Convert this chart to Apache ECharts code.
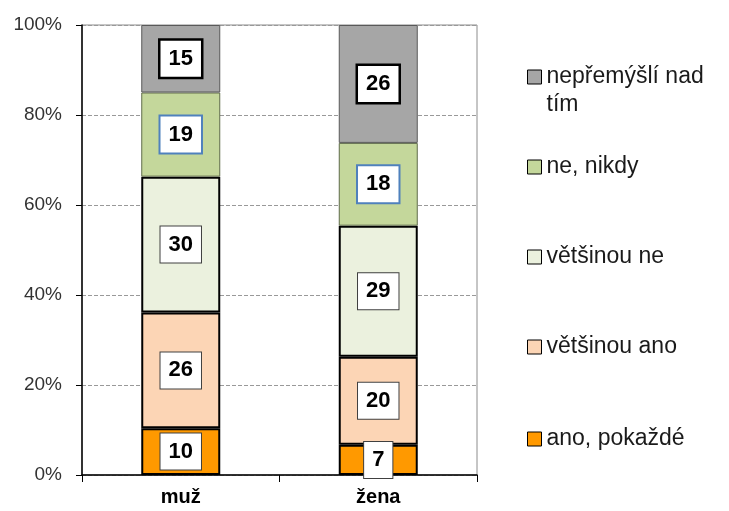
<!DOCTYPE html>
<html>
<head>
<meta charset="utf-8">
<script src="https://cdn.jsdelivr.net/npm/echarts@6/dist/echarts.min.js"></script>
<style>html,body{margin:0;padding:0;background:#fff}#c{width:729px;height:511px}</style>
</head>
<body>
<div id="c"></div>
<script>
var categories = ['muž', 'žena'];
var seriesNames = ['ano, pokaždé', 'většinou ano', 'většinou ne', 'ne, nikdy', 'nepřemýšlí nad tím'];
var anoPokazde = [10.4, 6.7];
var vetsinouAno = [25.7, 19.6];
var vetsinouNe = [30.2, 29.1];
var neNikdy = [18.7, 18.4];
var nepremysli = [15.0, 26.2];
var yTicks = [0, 20, 40, 60, 80, 100];

var values = [anoPokazde, vetsinouAno, vetsinouNe, neNikdy, nepremysli];
var colors = ['#ff9900', '#fcd5b5', '#ebf1de', '#c4d79b', '#a6a6a6'];
var barBorder = ['#000', '#000', '#000', '#5f6b4a', '#595959'];
var barBorderW = [2, 2, 2, 1, 1];
var labelBorder = ['#404040', '#404040', '#404040', '#4f81bd', '#000'];
var labelBorderW = [1, 1, 1, 2, 2.5];

var font = '"Liberation Sans", Arial, sans-serif';

var series = seriesNames.map(function (name, i) {
  return {
    name: name,
    type: 'bar',
    stack: 'total',
    barWidth: '40%',
    data: values[i],
    itemStyle: { color: colors[i], borderColor: barBorder[i], borderWidth: barBorderW[i] },
    label: {
      show: true,
      position: 'inside',
      formatter: function (p) { return Math.round(p.value); },
      fontFamily: font,
      fontWeight: 'bold',
      fontSize: 22,
      lineHeight: 24,
      color: '#000',
      backgroundColor: '#fff',
      borderColor: labelBorder[i],
      borderWidth: labelBorderW[i],
      padding: [7, 8, 5, 8]
    },
    emphasis: { disabled: true }
  };
});

var legendTops = [420, 328, 238, 148, 30];
var legends = seriesNames.map(function (name, i) {
  var multi = i === 4;
  return {
    data: [name],
    left: 522,
    top: legendTops[i],
    orient: 'vertical',
    itemWidth: 14,
    itemHeight: 14,
    itemGap: 0,
    icon: 'rect',
    selectedMode: false,
    itemStyle: { borderColor: '#000', borderWidth: 1 },
    formatter: multi ? function () { return '\nnepřemýšlí nad\ntím'; } : undefined,
    textStyle: {
      fontFamily: font,
      fontSize: 23,
      color: '#1a1a1a',
      lineHeight: 28
    }
  };
});

var chart = echarts.init(document.getElementById('c'), null, { renderer: 'canvas' });
chart.setOption({
  animation: false,
  backgroundColor: '#fff',
  grid: { left: 82, right: 252, top: 25, bottom: 36, show: true, borderColor: '#8c8c8c', borderWidth: 1 },
  legend: legends,
  xAxis: {
    type: 'category',
    data: categories,
    axisLine: { lineStyle: { color: '#000', width: 1.5 } },
    axisTick: { show: true, length: 7, lineStyle: { color: '#000' } },
    axisLabel: { fontFamily: font, fontWeight: 'bold', fontSize: 20, color: '#000', margin: 12 }
  },
  yAxis: {
    type: 'value',
    min: 0,
    max: 100,
    interval: 20,
    axisLine: { show: true, lineStyle: { color: '#000', width: 1.5 } },
    axisTick: { show: true, length: 6, lineStyle: { color: '#000' } },
    axisLabel: {
      fontFamily: font, fontSize: 19, color: '#333', margin: 20,
      formatter: function (v) { return yTicks.indexOf(v) >= 0 ? v + '%' : ''; }
    },
    splitLine: { show: true, lineStyle: { color: '#999', type: 'dashed', width: 1 } }
  },
  series: series
});
</script>
</body>
</html>
